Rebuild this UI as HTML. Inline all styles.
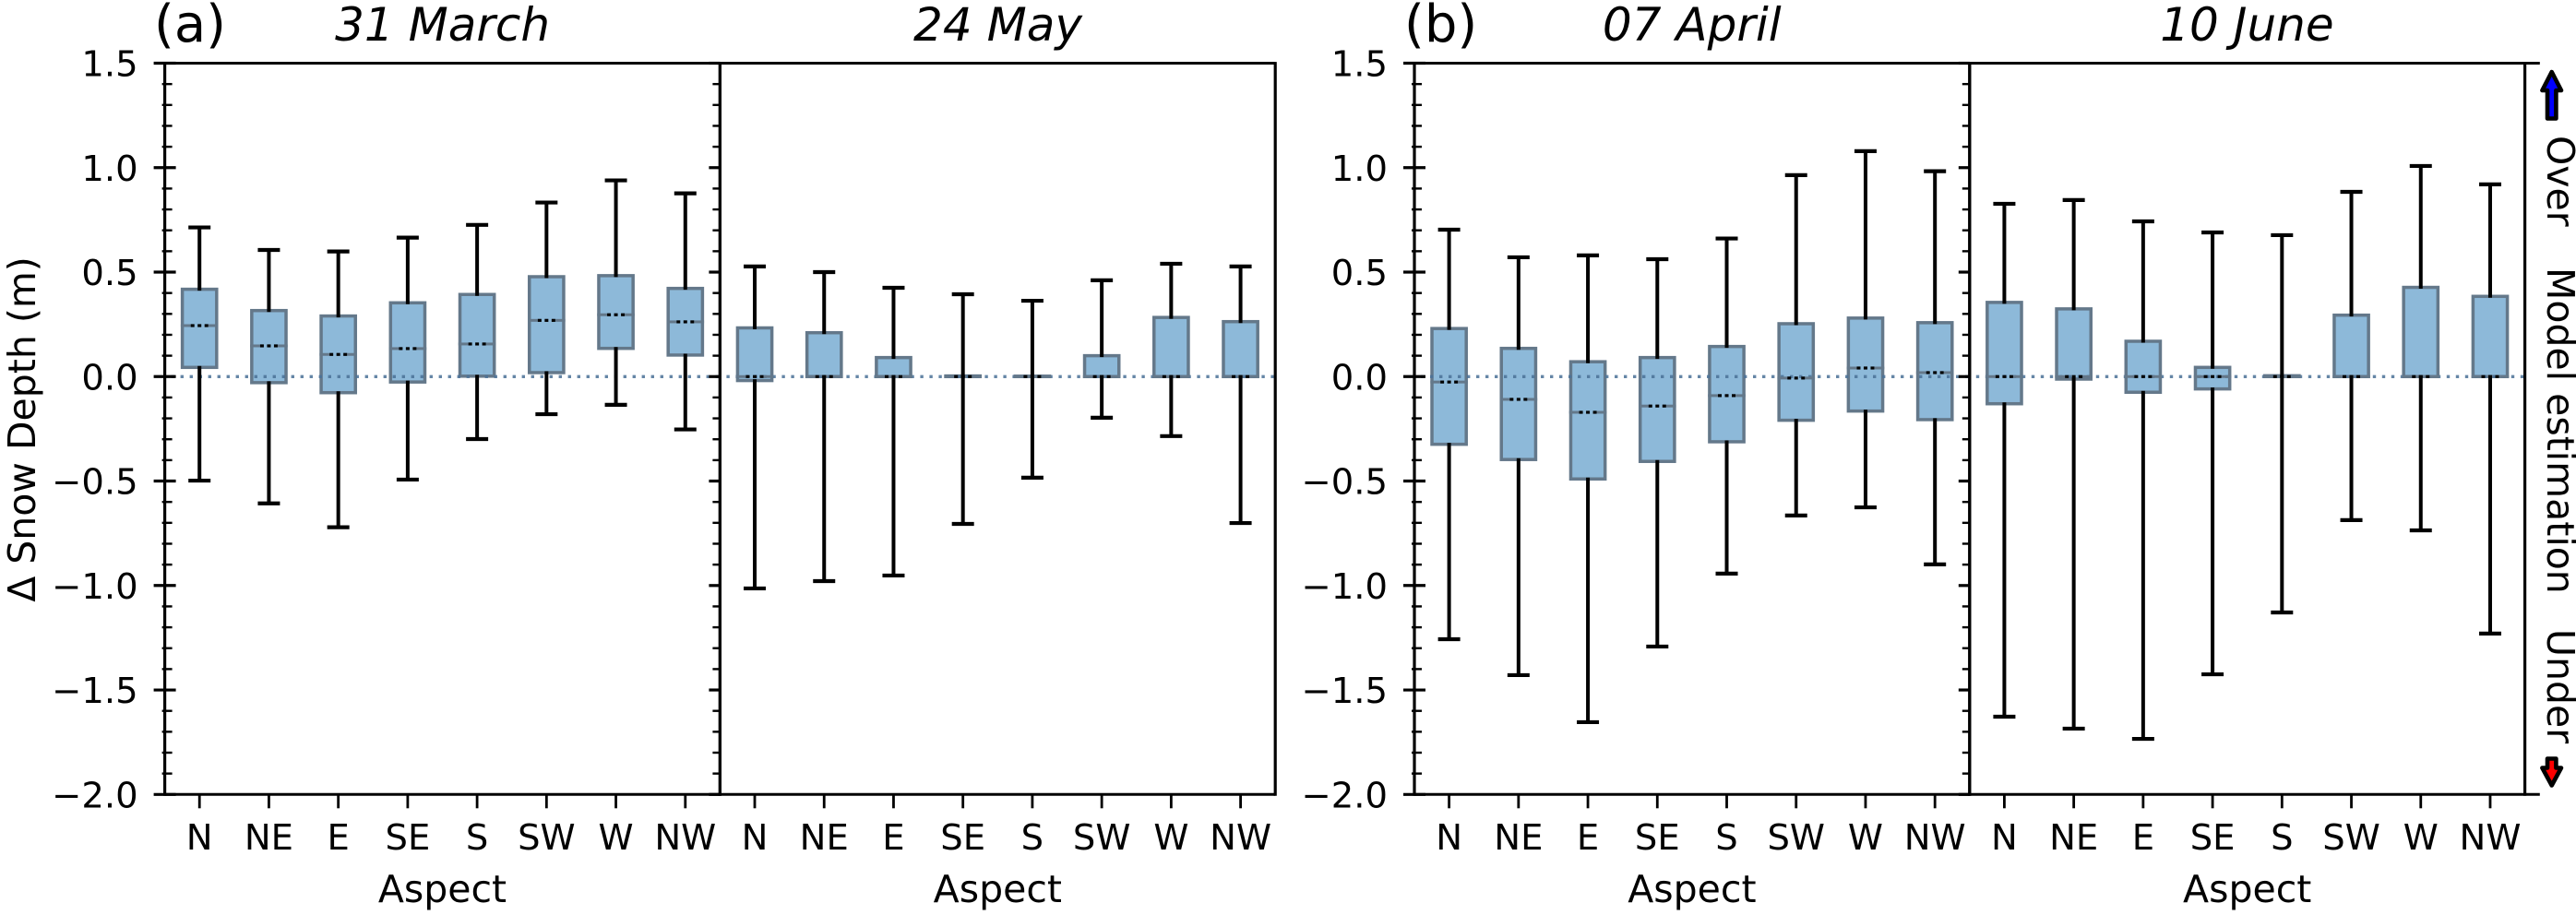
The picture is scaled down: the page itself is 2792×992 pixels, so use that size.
<!DOCTYPE html>
<html lang="en">
<head>
<meta charset="utf-8">
<title>Snow depth difference by aspect</title>
<style>
html,body{margin:0;padding:0;background:#fff;width:2792px;height:992px;overflow:hidden}
svg{display:block;font-family:"DejaVu Sans","Liberation Sans",sans-serif;fill:#000}
</style>
</head>
<body>
<svg id="chart" xmlns="http://www.w3.org/2000/svg" width="2792" height="992" viewBox="0 0 2792 992">
  <rect x="0" y="0" width="2792" height="992" fill="#fff"/>
  <g id="plots"></g>
  <text x="167" y="45" font-size="56">(a)</text>
  <text x="1522" y="45" font-size="56">(b)</text>
  <text x="479.6" y="44" font-size="50" font-style="italic" text-anchor="middle">31 March</text>
  <text x="1081.5" y="44" font-size="50" font-style="italic" text-anchor="middle">24 May</text>
  <text x="1833.8" y="44" font-size="50" font-style="italic" text-anchor="middle">07 April</text>
  <text x="2435.4" y="44" font-size="50" font-style="italic" text-anchor="middle">10 June</text>
  <text transform="translate(38,465.5) rotate(-90)" font-size="41" text-anchor="middle">Δ Snow Depth (m)</text>
  <text transform="translate(2761,147) rotate(90)" font-size="41">Over</text>
  <text transform="translate(2761,290) rotate(90)" font-size="41">Model estimation</text>
  <text transform="translate(2761,682) rotate(90)" font-size="41">Under</text>
  <polygon points="2765.7,78 2776,98 2770.4,98 2770.4,128.5 2761,128.5 2761,98 2755.4,98" fill="#0000ff" stroke="#000" stroke-width="4.6" stroke-linejoin="round"/>
  <polygon points="2765.7,851.5 2776,832.5 2770.4,832.5 2770.4,822.5 2761,822.5 2761,832.5 2755.4,832.5" fill="#ff0000" stroke="#000" stroke-width="4.6" stroke-linejoin="round"/>
</svg>
<script>
// ---- Chart data ----
const categories = ['N','NE','E','SE','S','SW','W','NW'];
const yMajorTicks = [1.5,1.0,0.5,0.0,-0.5,-1.0,-1.5,-2.0];
const yTickLabels = ['1.5','1.0','0.5','0.0','\u22120.5','\u22121.0','\u22121.5','\u22122.0'];
const yMinorTicks = [1.4,1.3,1.2,1.1,0.9,0.8,0.7,0.6,0.4,0.3,0.2,0.1,-0.1,-0.2,-0.3,-0.4,-0.6,-0.7,-0.8,-0.9,-1.1,-1.2,-1.3,-1.4,-1.6,-1.7,-1.8,-1.9];

const march31High   = [0.714,0.606,0.599,0.665,0.726,0.833,0.939,0.877];
const march31Q3     = [0.418,0.316,0.290,0.353,0.393,0.478,0.483,0.422];
const march31Median = [0.244,0.147,0.106,0.134,0.156,0.269,0.296,0.262];
const march31Q1     = [0.044,-0.029,-0.077,-0.026,0.002,0.019,0.135,0.103];
const march31Low    = [-0.498,-0.607,-0.721,-0.493,-0.299,-0.180,-0.135,-0.253];

const may24High   = [0.527,0.500,0.425,0.394,0.363,0.461,0.540,0.527];
const may24Q3     = [0.233,0.210,0.091,0.003,0.002,0.100,0.283,0.263];
const may24Median = [0.000,0.000,0.000,0.000,0.000,0.000,0.000,0.000];
const may24Q1     = [-0.019,0.000,0.000,0.000,0.000,0.000,0.000,0.000];
const may24Low    = [-1.014,-0.979,-0.952,-0.705,-0.484,-0.197,-0.285,-0.701];

const april07High   = [0.703,0.571,0.580,0.562,0.661,0.964,1.079,0.983];
const april07Q3     = [0.230,0.135,0.071,0.091,0.144,0.253,0.280,0.258];
const april07Median = [-0.026,-0.109,-0.171,-0.141,-0.091,-0.007,0.041,0.019];
const april07Q1     = [-0.324,-0.397,-0.490,-0.406,-0.312,-0.209,-0.165,-0.206];
const april07Low    = [-1.257,-1.429,-1.654,-1.292,-0.943,-0.665,-0.626,-0.899];

const june10High   = [0.827,0.845,0.743,0.690,0.677,0.884,1.008,0.920];
const june10Q3     = [0.355,0.324,0.169,0.044,0.004,0.294,0.427,0.384];
const june10Median = [0.000,0.000,0.000,0.000,0.000,0.000,0.000,0.000];
const june10Q1     = [-0.130,-0.012,-0.075,-0.059,0.000,0.000,0.000,0.000];
const june10Low    = [-1.628,-1.685,-1.734,-1.425,-1.129,-0.687,-0.736,-1.230];

// ---- Axis functions ----
const NS = 'http://www.w3.org/2000/svg';
const plots = document.getElementById('plots');
const yDomainTop = 1.5, yDomainBottom = -2.0;
const yPixelTop = 68.5, yPixelBottom = 861.3;
const panelWidth = 601.8;
const xStep = panelWidth / categories.length;
function yScale(v){ return yPixelTop + (yDomainTop - v) * (yPixelBottom - yPixelTop) / (yDomainTop - yDomainBottom); }
function xScale(i, left){ return left + (i + 0.5) * xStep; }

function mk(parent, tag, props){
  const el = document.createElementNS(NS, tag);
  for (const k in props) el.setAttribute(k, props[k]);
  parent.appendChild(el);
  return el;
}
function seg(parent, x1, y1, x2, y2, color, width){
  return mk(parent, 'line', {x1:x1, y1:y1, x2:x2, y2:y2, stroke:color, 'stroke-width':width});
}

function drawBoxes(parent, left, high, q3, median, q1, low){
  const zeroY = yScale(0);
  const boxes = mk(parent, 'g', {});
  
  
  categories.forEach(function(cat, i){
    const x = xScale(i, left);
    const top = yScale(q3[i]), bottom = yScale(q1[i]);
    const box = mk(boxes, 'rect', {x:x-18.6, y:top, width:37.2, height:Math.max(bottom-top,0.1), fill:'#8db9d9', stroke:'#64788a', 'stroke-width':3.5});
    
    
  });
  const zero = seg(parent, left + 7, zeroY, left + panelWidth - 1, zeroY, '#4a7197', 3.4);
  zero.setAttribute('stroke-dasharray', '3.4 6.6');
  zero.setAttribute('stroke-opacity', '0.85');
  
  
  categories.forEach(function(cat, i){
    const x = xScale(i, left);
    const g = mk(parent, 'g', {});
    
    
    seg(g, x, yScale(high[i]), x, yScale(q3[i]) + 1.5, '#000', 4);
    seg(g, x, yScale(q1[i]) - 1.5, x, yScale(low[i]), '#000', 4);
    seg(g, x-12, yScale(high[i]), x+12, yScale(high[i]), '#000', 4.2);
    seg(g, x-12, yScale(low[i]), x+12, yScale(low[i]), '#000', 4.2);
    const m = yScale(median[i]);
    const md = mk(parent, 'g', {});
    
    
    seg(md, x-20.3, m, x-9.5, m, '#64788a', 3);
    seg(md, x+9.5, m, x+20.3, m, '#64788a', 3);
    seg(md, x-9.5, m, x-5.5, m, '#000', 3.2);
    seg(md, x-2, m, x+2, m, '#000', 3.2);
    seg(md, x+5.5, m, x+9.5, m, '#000', 3.2);
  });
}

function drawPanel(name, left, showLeftAxis, showRightTicks, high, q3, median, q1, low){
  const right = left + panelWidth;
  const panel = mk(plots, 'g', {});
  
  

  drawBoxes(panel, left, high, q3, median, q1, low);

  // left-hand y axis with in/out ticks and labels
  if (showLeftAxis) {
    yMajorTicks.forEach(function(v, i){
      const t = seg(panel, left-12, yScale(v), left+12, yScale(v), '#000', 3.2);
      
      
      const lab = mk(panel, 'text', {x:left-29, y:yScale(v)+14, 'font-size':38.5, 'text-anchor':'end'});
      lab.textContent = yTickLabels[i];
      
      
    });
    yMinorTicks.forEach(function(v){
      const t = seg(panel, left-3, yScale(v), left+8, yScale(v), '#000', 2.4);
      
      
    });
  }
  // inward ticks on the shared divider
  if (showRightTicks) {
    yMajorTicks.forEach(function(v){
      const t = seg(panel, right-12, yScale(v), right, yScale(v), '#000', 3.2);
      
      
    });
    yMinorTicks.forEach(function(v){
      const t = seg(panel, right-8, yScale(v), right, yScale(v), '#000', 2.4);
      
      
    });
  }

  // x ticks and category labels
  categories.forEach(function(cat, i){
    const x = xScale(i, left);
    const t = seg(panel, x, yPixelBottom, x, yPixelBottom+15, '#000', 2.8);
    
    
    const lab = mk(panel, 'text', {x:x, y:921, 'font-size':38.5, 'text-anchor':'middle'});
    lab.textContent = cat;
    
    
  });
  const xt = mk(panel, 'text', {x:left+panelWidth/2, y:978, 'font-size':41, 'text-anchor':'middle'});
  xt.textContent = 'Aspect';
  
  

  // spines
  const sL = seg(panel, left, yPixelTop-1.4, left, yPixelBottom+1.4, '#000', 3.2);
  
  
  const sR = seg(panel, right, yPixelTop-1.4, right, yPixelBottom+1.4, '#000', 3.2);
  
  
  const sT = seg(panel, left, yPixelTop, right, yPixelTop, '#000', 3);
  
  
  const sB = seg(panel, left, yPixelBottom, right, yPixelBottom, '#000', 3);
  
  
}

drawPanel('panel-31-march', 178.6, true, true, march31High, march31Q3, march31Median, march31Q1, march31Low);
drawPanel('panel-24-may', 780.4, false, false, may24High, may24Q3, may24Median, may24Q1, may24Low);
drawPanel('panel-07-april', 1533, true, true, april07High, april07Q3, april07Median, april07Q1, april07Low);
drawPanel('panel-10-june', 2134.8, false, false, june10High, june10Q3, june10Median, june10Q1, june10Low);

// extended axis ends to the right of the last panel
const endTop = seg(plots, 2736.6, yPixelTop, 2752.8, yPixelTop, '#000', 3);


const endBottom = seg(plots, 2736.6, yPixelBottom, 2752.8, yPixelBottom, '#000', 3);


</script>
</body>
</html>
